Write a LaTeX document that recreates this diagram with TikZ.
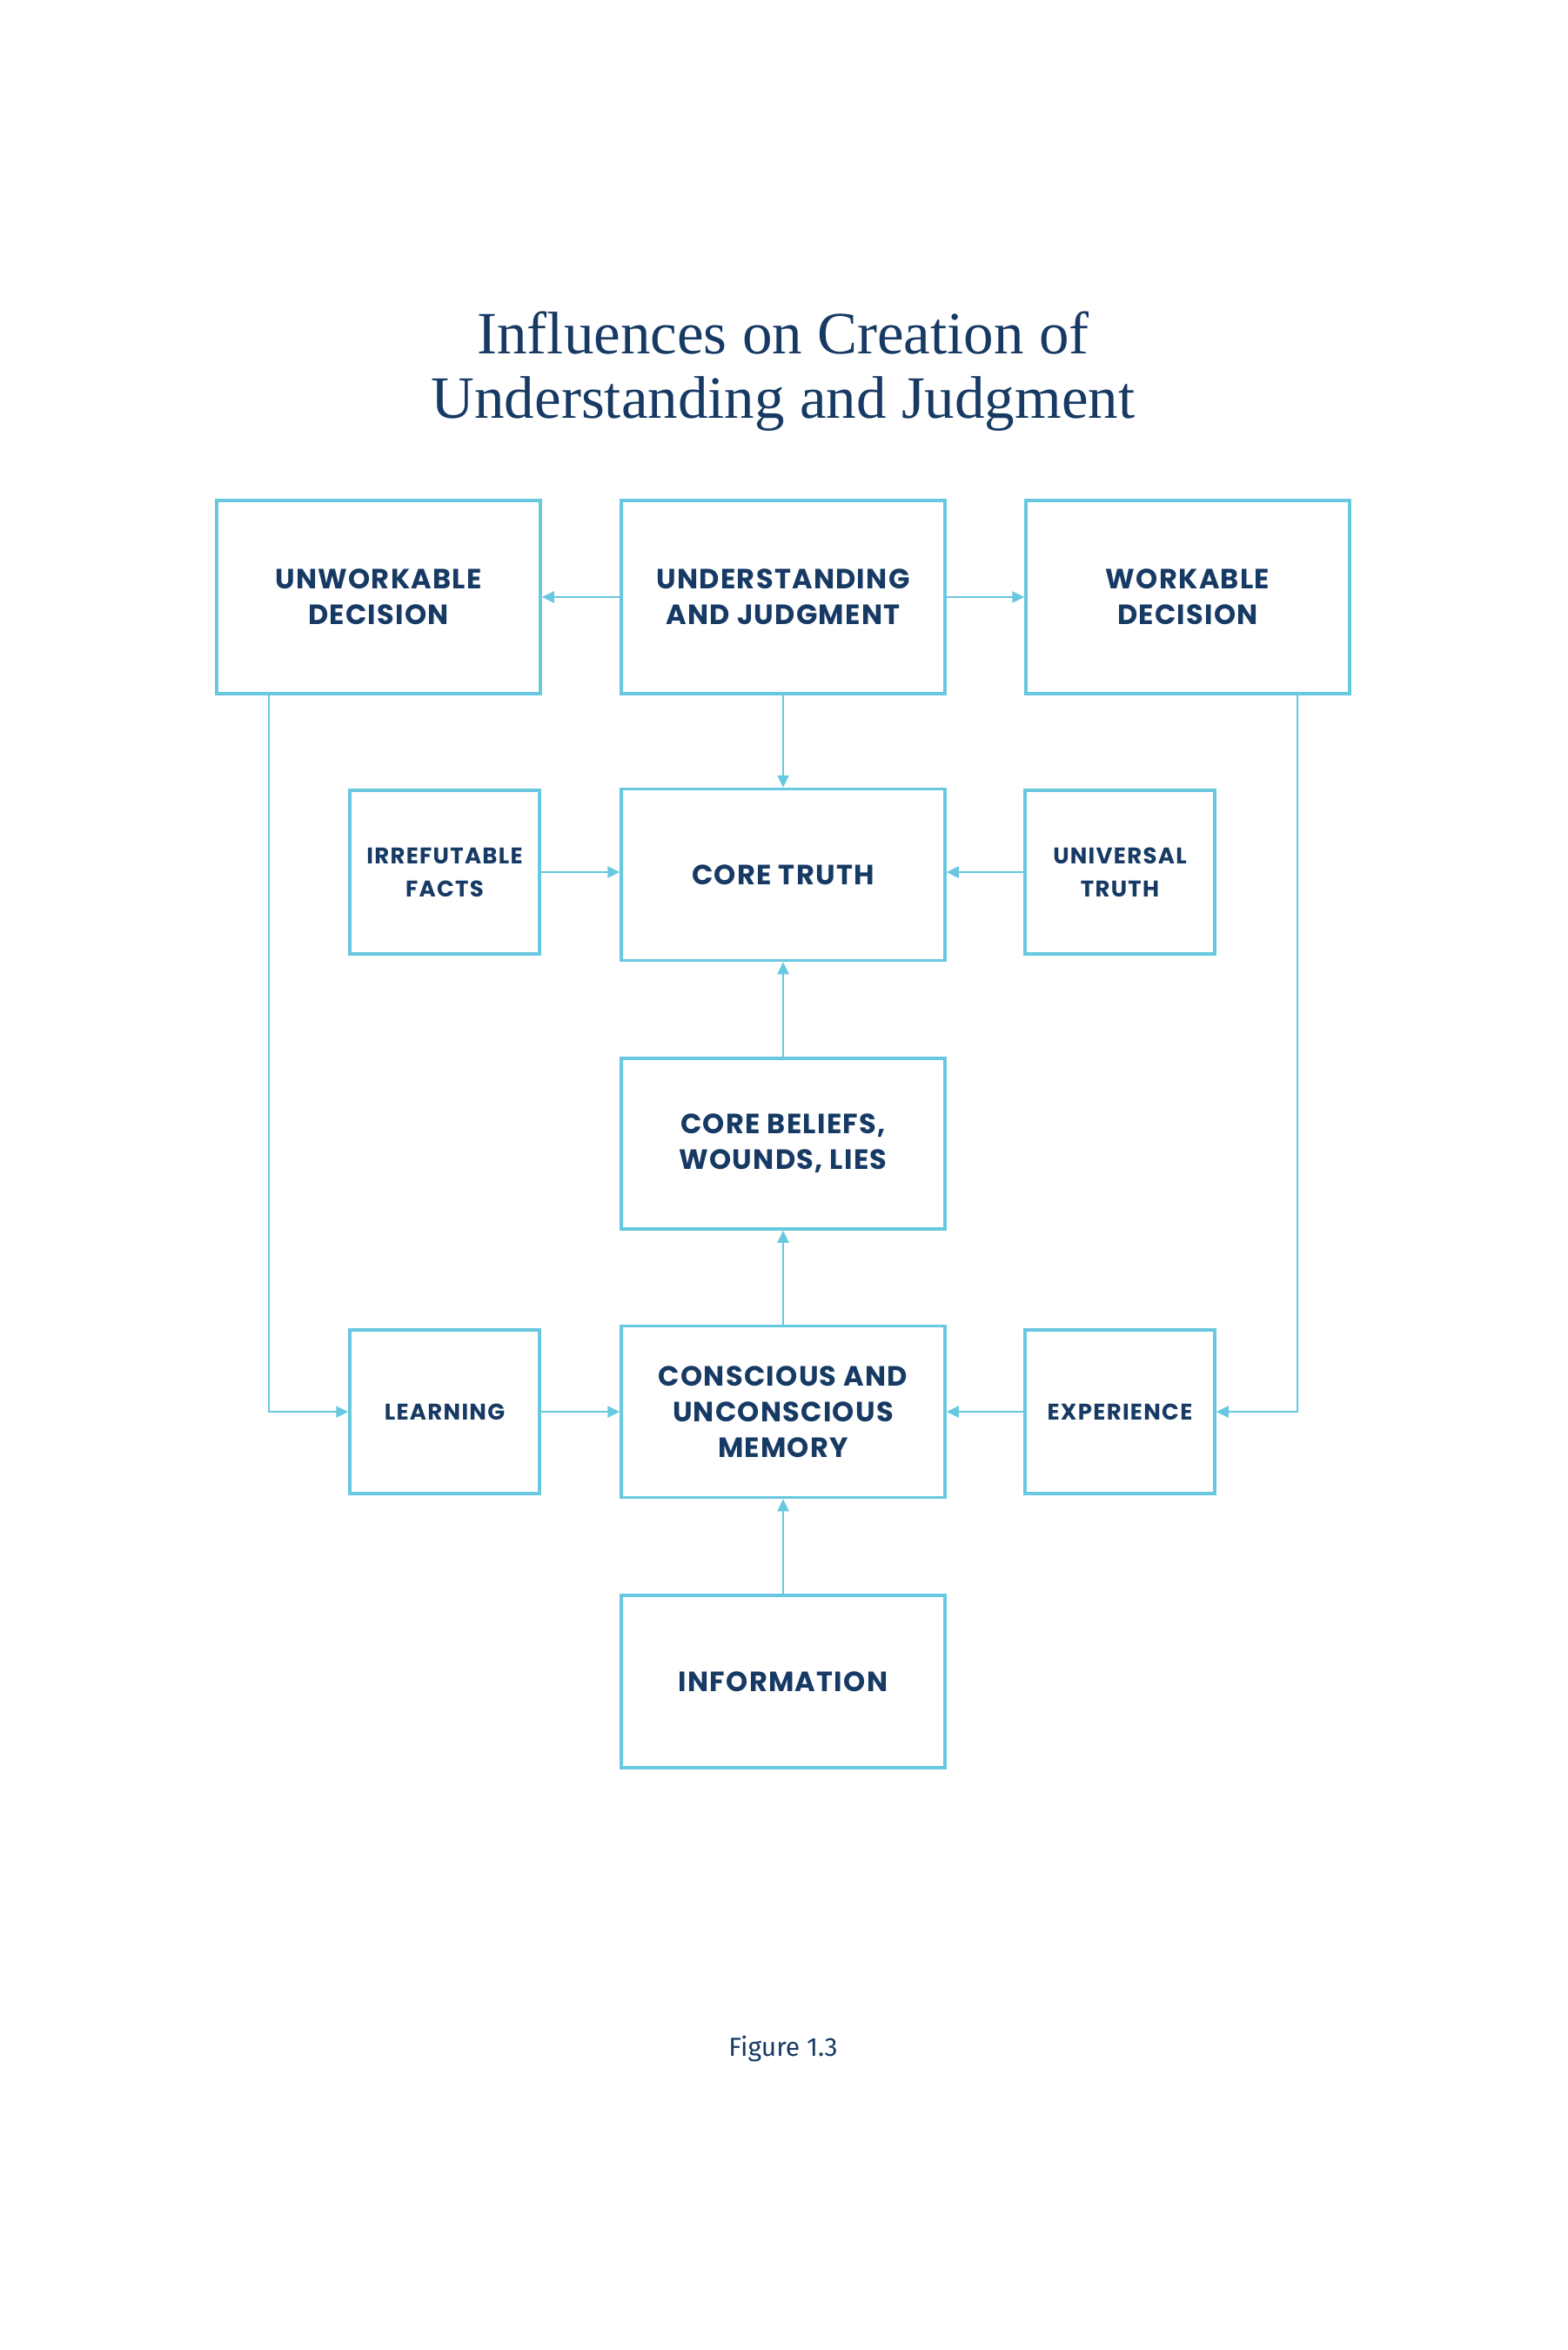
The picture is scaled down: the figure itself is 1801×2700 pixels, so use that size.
\documentclass[tikz,border=0pt]{standalone}
\usepackage{fontspec}
\setmainfont{Liberation Serif}
\newfontfamily\boxfont[LetterSpace=4]{Poppins}
\newfontfamily\smallboxfont[LetterSpace=5]{Poppins}
\newfontfamily\capfont{Fira Sans}
\usetikzlibrary{arrows.meta}
\definecolor{boxblue}{HTML}{68C8E0}
\definecolor{navy}{HTML}{173A64}
\tikzset{
  bigbox/.style={draw=boxblue, line width=1.75pt, minimum width=186pt, align=center, text=navy,
    font=\boxfont\bfseries\fontsize{16}{20.5}\selectfont, inner sep=0pt},
  smallbox/.style={draw=boxblue, line width=1.75pt, minimum width=109pt, minimum height=94pt, align=center, text=navy,
    font=\smallboxfont\bfseries\fontsize{13}{19}\selectfont, inner sep=0pt},
  conn/.style={draw=boxblue, line width=1.2pt, -{Triangle[length=7pt,width=6.5pt]}},
  titletext/.style={text=navy, font=\fontsize{34.5}{37}\selectfont, inner sep=0pt, anchor=base},
}
\begin{document}
\begin{tikzpicture}[x=0.5pt,y=-0.5pt]
\path[use as bounding box, fill=white] (0,0) rectangle (1801,2700);

\node[titletext] (t1) at (900,406) {Influences on Creation of};
\node[titletext] (t2) at (900,480) {Understanding and Judgment};

\node[bigbox, minimum height=111pt] (unw) at (435,686) {UNWORKABLE\\DECISION};
\node[bigbox, minimum height=111pt] (und) at (900,686) {UNDERSTANDING\\AND JUDGMENT};
\node[bigbox, minimum height=111pt] (wor) at (1365,686) {WORKABLE\\DECISION};

\node[bigbox, minimum height=98.5pt] (core) at (900,1005) {CORE TRUTH};
\node[smallbox] (irr) at (511,1002) {IRREFUTABLE\\FACTS};
\node[smallbox] (uni) at (1287,1002) {UNIVERSAL\\TRUTH};

\node[bigbox, minimum height=98pt] (bel) at (900,1314) {CORE BELIEFS,\\WOUNDS, LIES};

\node[bigbox, minimum height=98.5pt] (con) at (900,1622) {CONSCIOUS AND\\UNCONSCIOUS\\MEMORY};
\node[smallbox] (lea) at (511,1622) {LEARNING};
\node[smallbox] (exp) at (1287,1622) {EXPERIENCE};

\node[bigbox, minimum height=99pt] (inf) at (900,1932) {INFORMATION};

\node[text=navy, font=\capfont\fontsize{15}{18}\selectfont, inner sep=0pt, anchor=base] (fig) at (900,2362) {Figure 1.3};

\draw[conn] (und.west) -- (unw.east);
\draw[conn] (und.east) -- (wor.west);
\draw[conn] (und.south) -- (core.north);
\draw[conn] (irr.east) -- (irr.east -| core.west);
\draw[conn] (uni.west) -- (uni.west -| core.east);
\draw[conn] (bel.north) -- (core.south);
\draw[conn] (con.north) -- (bel.south);
\draw[conn] (inf.north) -- (con.south);
\draw[conn] (lea.east) -- (con.west);
\draw[conn] (exp.west) -- (con.east);
\draw[conn] ([xshift=31pt]unw.south west) |- (lea.west);
\draw[conn] ([xshift=-31pt]wor.south east) |- (exp.east);
\end{tikzpicture}
\end{document}
